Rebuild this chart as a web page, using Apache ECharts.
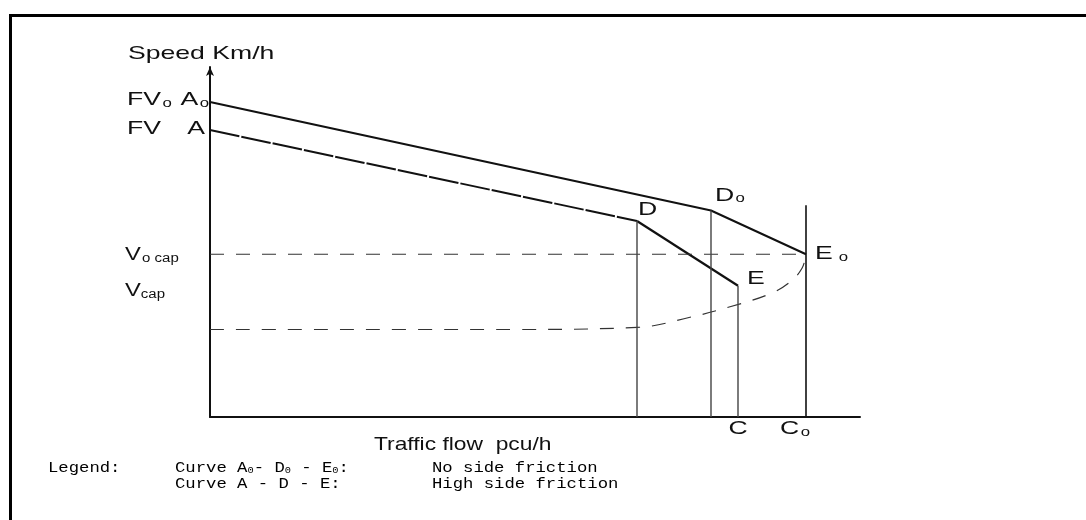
<!DOCTYPE html>
<html>
<head>
<meta charset="utf-8">
<script src="https://cdn.jsdelivr.net/npm/echarts@6/dist/echarts.min.js"></script>
<style>
html,body{margin:0;padding:0;background:#fff;}
#chart{width:1086px;height:520px;}
</style>
</head>
<body>
<div id="chart"></div>
<script>
// ---- data (flow in pcu/h-like units, speed in km/h-like units) ----
const curveNoFriction = [[0, 90], [2505, 59], [2980, 46.5]];      // A0 - D0 - E0
const curveHighFrictionAD = [[0, 82], [2135, 56]];                // A - D
const curveHighFrictionDE = [[2135, 56], [2640, 37.5]];           // D - E
const capacitySpeedLine = [[0, 46.5], [2980, 46.5]];              // V0 cap
const congestedBranch = [[0, 25], [1500, 25], [2135, 25.6], [2400, 28.5], [2600, 31.5], [2800, 35.2], [2900, 38.6], [2960, 42.5], [2980, 46.5]];
const verticalFlows = [2135, 2505, 2640, 2980];                   // D, D0, E(C), E0(C0)
const verticalTops = [56, 59, 37.5, 60.5];
const axisMax = { flow: 3250, speed: 100 };

const chart = echarts.init(document.getElementById('chart'), null, { renderer: 'canvas' });

const black = '#111';
const series = [
  { type: 'line', data: curveNoFriction, symbol: 'none', lineStyle: { color: black, width: 2 } },
  { type: 'line', data: curveHighFrictionAD, symbol: 'none', lineStyle: { color: black, width: 2, type: [30, 2] } },
  { type: 'line', data: curveHighFrictionDE, symbol: 'none', lineStyle: { color: black, width: 2.2 } },
  { type: 'line', data: capacitySpeedLine, symbol: 'none', lineStyle: { color: '#333', width: 1.2, type: [14, 12] } },
  { type: 'line', data: congestedBranch, symbol: 'none', smooth: 0.4, lineStyle: { color: '#333', width: 1.2, type: [14, 12] } }
];
verticalFlows.forEach((f, i) => {
  series.push({ type: 'line', data: [[f, 0], [f, verticalTops[i]]], symbol: 'none',
    lineStyle: { color: i === 3 ? black : '#444', width: i === 3 ? 1.6 : 1.4 } });
});

chart.setOption({
  animation: false,
  backgroundColor: '#fff',
  grid: { left: 210, right: 226, top: 67, bottom: 103 },
  xAxis: {
    type: 'value', min: 0, max: axisMax.flow,
    axisLine: { show: true, lineStyle: { color: black, width: 2 } },
    axisTick: { show: false }, axisLabel: { show: false }, splitLine: { show: false }
  },
  yAxis: {
    type: 'value', min: 0, max: axisMax.speed,
    axisLine: { show: true, symbol: ['none', 'arrow'], symbolSize: [6, 9], lineStyle: { color: black, width: 2 } },
    axisTick: { show: false }, axisLabel: { show: false }, splitLine: { show: false }
  },
  series: series
});

// ---- annotations anchored to the data through the chart's scales ----
const px = (p) => chart.convertToPixel({ xAxisIndex: 0, yAxisIndex: 0 }, p);
const SX = 1.4;
const sans = 'Liberation Sans, Arial, sans-serif';
const mono = 'Liberation Mono, Courier New, monospace';
const rich = {
  b: { fontSize: 19, fontFamily: sans, fill: black, color: black },
  s: { fontSize: 12, fontFamily: sans, fill: black, color: black, padding: [7, 0, 0, 1] },
  c: { fontSize: 12, fontFamily: sans, fill: black, color: black, padding: [7, 0, 0, 0] }
};
function txt(x, y, text, align, scale, extra) {
  return Object.assign({
    type: 'text', x: x, y: y, scaleX: scale || SX, z: 100,
    style: { text: text, align: align || 'left', verticalAlign: 'middle', rich: rich, fill: black,
      font: '19px ' + sans }
  }, extra || {});
}
const A0 = px(curveNoFriction[0]);
const D0 = px(curveNoFriction[1]);
const E0 = px(curveNoFriction[2]);
const A = px(curveHighFrictionAD[0]);
const D = px(curveHighFrictionAD[1]);
const E = px(curveHighFrictionDE[1]);
const cap0 = px(capacitySpeedLine[0]);
const origin = px([0, 0]);
const yTop = px([0, axisMax.speed]);
const xMid = px([axisMax.flow * 0.38, 0]);
const leftX = origin[0] - 83;

const monoRich = {
  m: { fontSize: 15, fontFamily: mono, fill: '#000', color: '#000' },
  t: { fontSize: 9, fontFamily: mono, fill: '#000', color: '#000', padding: [6, 0, 0, 0] }
};
function mtxt(x, y, text) {
  return { type: 'text', x: x, y: y, z: 100, scaleX: 1.15,
    style: { text: text, align: 'left', verticalAlign: 'middle', rich: monoRich, fill: '#000', font: '15px ' + mono } };
}

chart.setOption({
  graphic: [
    { type: 'line', shape: { x1: 9, y1: 15.5, x2: 1086, y2: 15.5 }, style: { stroke: '#000', lineWidth: 3 } },
    { type: 'line', shape: { x1: 10.5, y1: 14, x2: 10.5, y2: 520 }, style: { stroke: '#000', lineWidth: 3 } },
    txt(origin[0] - 82, yTop[1] - 13, '{b|Speed Km/h}', 'left'),
    txt(leftX, A0[1] - 2, '{b|FV}{s|o}', 'left'),
    txt(A0[0] - 1, A0[1] - 2, '{b|A}{s|o}', 'right'),
    txt(leftX, A[1] - 1, '{b|FV}', 'left'),
    txt(A[0] - 5, A[1] - 1, '{b|A}', 'right'),
    txt(origin[0] - 85, cap0[1] + 1, '{b|V}{s|o}{c| cap}', 'left', 1.25),
    txt(origin[0] - 85, E[1] + 5, '{b|V}{c|cap}', 'left', 1.25),
    txt(D[0] + 1, D[1] - 11, '{b|D}', 'left'),
    txt(D0[0] + 4, D0[1] - 15, '{b|D}{s|o}', 'left'),
    txt(E0[0] + 9, E0[1], '{b|E}{s| o}', 'left'),
    txt(E[0] + 9, E[1] - 7, '{b|E}', 'left'),
    txt(E[0], origin[1] + 12, '{b|C}', 'center'),
    txt(E0[0] + 4, origin[1] + 12, '{b|C}{s|o}', 'right'),
    txt(xMid[0] - 83, origin[1] + 28, '{b|Traffic flow  pcu/h}', 'left', 1.2),
    mtxt(48, origin[1] + 51, '{m|Legend:}'),
    mtxt(175, origin[1] + 51, '{m|Curve A}{t|0}{m|- D}{t|0}{m| - E}{t|0}{m|:}'),
    mtxt(432, origin[1] + 51, '{m|No side friction}'),
    mtxt(175, origin[1] + 67, '{m|Curve A - D - E:}'),
    mtxt(432, origin[1] + 67, '{m|High side friction}')
  ]
});
</script>
</body>
</html>
